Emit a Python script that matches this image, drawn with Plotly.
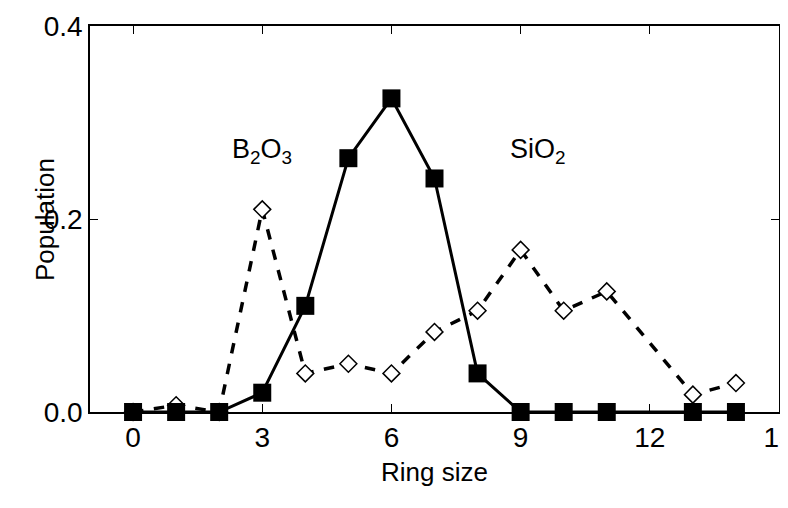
import plotly.graph_objects as go

ring = [0, 1, 2, 3, 4, 5, 6, 7, 8, 9, 10, 11, 13, 14]
b2o3 = [0, 0, 0, 0.02, 0.11, 0.263, 0.325, 0.242, 0.04, 0, 0, 0, 0, 0]
sio2 = [0, 0.007, 0, 0.21, 0.04, 0.05, 0.04, 0.083, 0.105, 0.168, 0.105, 0.125, 0.018, 0.03]

fig = go.Figure()
fig.add_trace(go.Scatter(x=ring, y=sio2, mode="lines+markers",
                         line=dict(color="black", width=3.5, dash="dash"),
                         marker=dict(symbol="diamond", size=13, color="white",
                                     line=dict(color="black", width=1.5)),
                         cliponaxis=False))
fig.add_trace(go.Scatter(x=ring, y=b2o3, mode="lines+markers",
                         line=dict(color="black", width=3),
                         marker=dict(symbol="square", size=18, color="black"),
                         cliponaxis=False))

fig.add_annotation(x=3.0, y=0.27, text="B<sub>2</sub>O<sub>3</sub>", showarrow=False,
                   font=dict(size=27))
fig.add_annotation(x=9.4, y=0.27, text="SiO<sub>2</sub>", showarrow=False,
                   font=dict(size=27))
# y title as annotation so it can sit over the tick-label column like the reference
fig.add_annotation(x=-0.09, y=0.5, xref="paper", yref="paper", text="Population",
                   textangle=-90, showarrow=False, font=dict(size=26))

axis = dict(showgrid=False, zeroline=False, showline=True, linecolor="black",
            linewidth=1.5, mirror="ticks", ticks="inside", ticklen=8,
            tickcolor="black", tickfont=dict(size=28), automargin=False)
fig.update_xaxes(range=[-1, 15], tickvals=[0, 3, 6, 9, 12, 15],
                 title=dict(text="Ring size", font=dict(size=26), standoff=10), **axis)
fig.update_yaxes(range=[0, 0.4], tickvals=[0, 0.2, 0.4], tickformat=".1f", **axis)
fig.update_layout(width=788, height=508, showlegend=False,
                  plot_bgcolor="white", paper_bgcolor="white",
                  margin=dict(l=82, r=17, t=18, b=104),
                  font=dict(family="Liberation Sans, Arial", color="black"))
fig.write_html("out.html")
